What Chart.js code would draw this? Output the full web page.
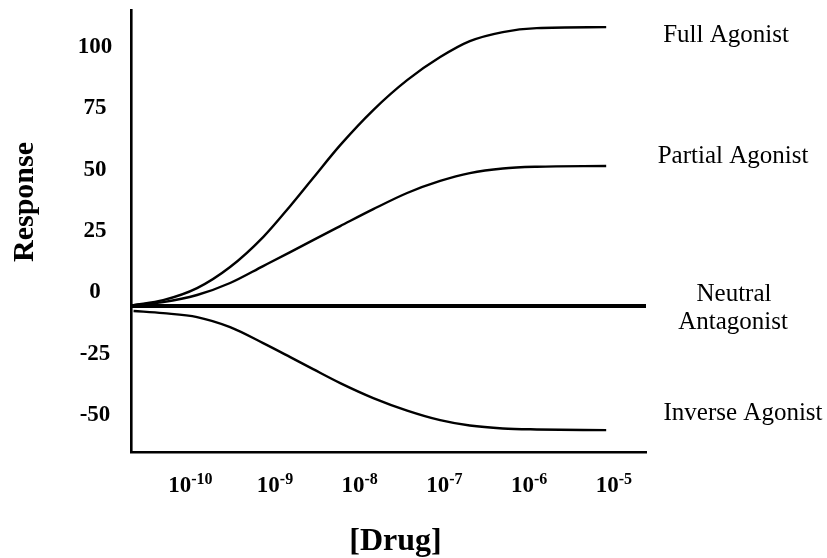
<!DOCTYPE html>
<html>
<head>
<meta charset="utf-8">
<script src="https://cdn.jsdelivr.net/npm/chart.js@4.4.1/dist/chart.umd.min.js"></script>
<style>
  html, body { margin: 0; padding: 0; background: #fff; }
  canvas { display: block; }
</style>
</head>
<body>
<canvas id="drugChart" width="827" height="558"></canvas>
<script>
// log10 of drug concentration
var doseLog = [-10.67, -10.32, -9.92, -9.53, -9.14, -8.82, -8.55, -8.23, -7.84, -7.44, -7.05, -6.70, -6.31, -5.91, -5.09];
var fullAgonist = [-6.0, -4.0, 0.9, 9.5, 21.7, 34.4, 45.8, 59.2, 73.5, 85.7, 95.1, 101.6, 105.3, 106.9, 107.3];
var partialAgonist = [-6.0, -4.8, -1.9, 3.0, 9.9, 15.6, 20.5, 26.2, 33.1, 39.7, 44.6, 47.8, 49.7, 50.4, 50.7];
var inverseAgonist = [-8.4, -9.3, -10.9, -15.0, -21.5, -27.2, -32.1, -37.8, -43.9, -49.0, -52.9, -55.1, -56.3, -56.7, -57.0];
var neutralDose = [-10.70, -4.62];
var neutralAntagonist = [-6.4, -6.4];

var xTicks = [-10, -9, -8, -7, -6, -5];
var yTicks = [100, 75, 50, 25, 0, -25, -50];

// curve names on the right: text lines and the response value they sit at
var curveNames = ["Full Agonist", "Partial Agonist", "Neutral", "Antagonist", "Inverse Agonist"];
var curveNameY = [101.2, 51.9, -4.4, -15.8, -52.9];
var curveNameShift = [80, 87, 88, 87, 97];

function pts(xs, ys) {
    return xs.map(function (x, i) { return { x: x, y: ys[i] }; });
}

var serif = '"Liberation Serif", "Times New Roman", serif';

var labelsPlugin = {
    id: 'labels',
    afterDraw: function (chart) {
        var c = chart.ctx;
        var xs = chart.scales.x, ys = chart.scales.y, area = chart.chartArea;
        c.save();
        c.fillStyle = '#000';

        // y tick labels
        c.font = 'bold 23px ' + serif;
        c.textAlign = 'center';
        c.textBaseline = 'alphabetic';
        yTicks.forEach(function (v) {
            c.fillText(String(v), area.left - 36, ys.getPixelForValue(v) + 8);
        });

        // x tick labels: 10 with a raised exponent
        xTicks.forEach(function (v) {
            var px = xs.getPixelForValue(v);
            c.font = 'bold 23px ' + serif;
            var wBase = c.measureText('10').width;
            c.font = 'bold 16px ' + serif;
            var exp = '-' + Math.abs(v);
            var wExp = c.measureText(exp).width;
            var x0 = px - (wBase + wExp) / 2;
            c.textAlign = 'left';
            c.font = 'bold 23px ' + serif;
            c.fillText('10', x0, area.bottom + 40);
            c.font = 'bold 16px ' + serif;
            c.fillText(exp, x0 + wBase, area.bottom + 32);
        });

        // axis titles
        c.textAlign = 'center';
        c.font = 'bold 32px ' + serif;
        c.fillText('[Drug]', (area.left + area.right) / 2 + 7, area.bottom + 98);

        c.save();
        c.translate(33, 202);
        c.rotate(-Math.PI / 2);
        c.font = 'bold 30px ' + serif;
        c.fillText('Response', 0, 0);
        c.restore();

        // curve names
        c.font = '25px ' + serif;
        curveNames.forEach(function (t, i) {
            c.fillText(t, area.right + curveNameShift[i], ys.getPixelForValue(curveNameY[i]));
        });
        c.restore();
    }
};

var curve = { borderColor: '#000', borderWidth: 2.4, pointRadius: 0, showLine: true, fill: false, cubicInterpolationMode: 'monotone' };

new Chart(document.getElementById('drugChart'), {
    type: 'scatter',
    data: {
        datasets: [
            Object.assign({ label: 'Full Agonist', data: pts(doseLog, fullAgonist) }, curve),
            Object.assign({ label: 'Partial Agonist', data: pts(doseLog, partialAgonist) }, curve),
            Object.assign({ label: 'Inverse Agonist', data: pts(doseLog, inverseAgonist) }, curve),
            Object.assign({ label: 'Neutral Antagonist', data: pts(neutralDose, neutralAntagonist) }, curve, { borderWidth: 4 })
        ]
    },
    options: {
        responsive: false,
        animation: false,
        layout: { padding: { left: 131, top: 10, right: 181, bottom: 106 } },
        plugins: { legend: { display: false }, tooltip: { enabled: false } },
        scales: {
            x: {
                type: 'linear', min: -10.70, max: -4.62,
                grid: { display: false, drawTicks: false },
                border: { color: '#000', width: 2.6 },
                ticks: { display: false },
                afterFit: function (s) { s.height = 0; }
            },
            y: {
                type: 'linear', min: -65.9, max: 114.3,
                grid: { display: false, drawTicks: false },
                border: { color: '#000', width: 2.6 },
                ticks: { display: false },
                afterFit: function (s) { s.width = 0; }
            }
        }
    },
    plugins: [labelsPlugin]
});
</script>
</body>
</html>
